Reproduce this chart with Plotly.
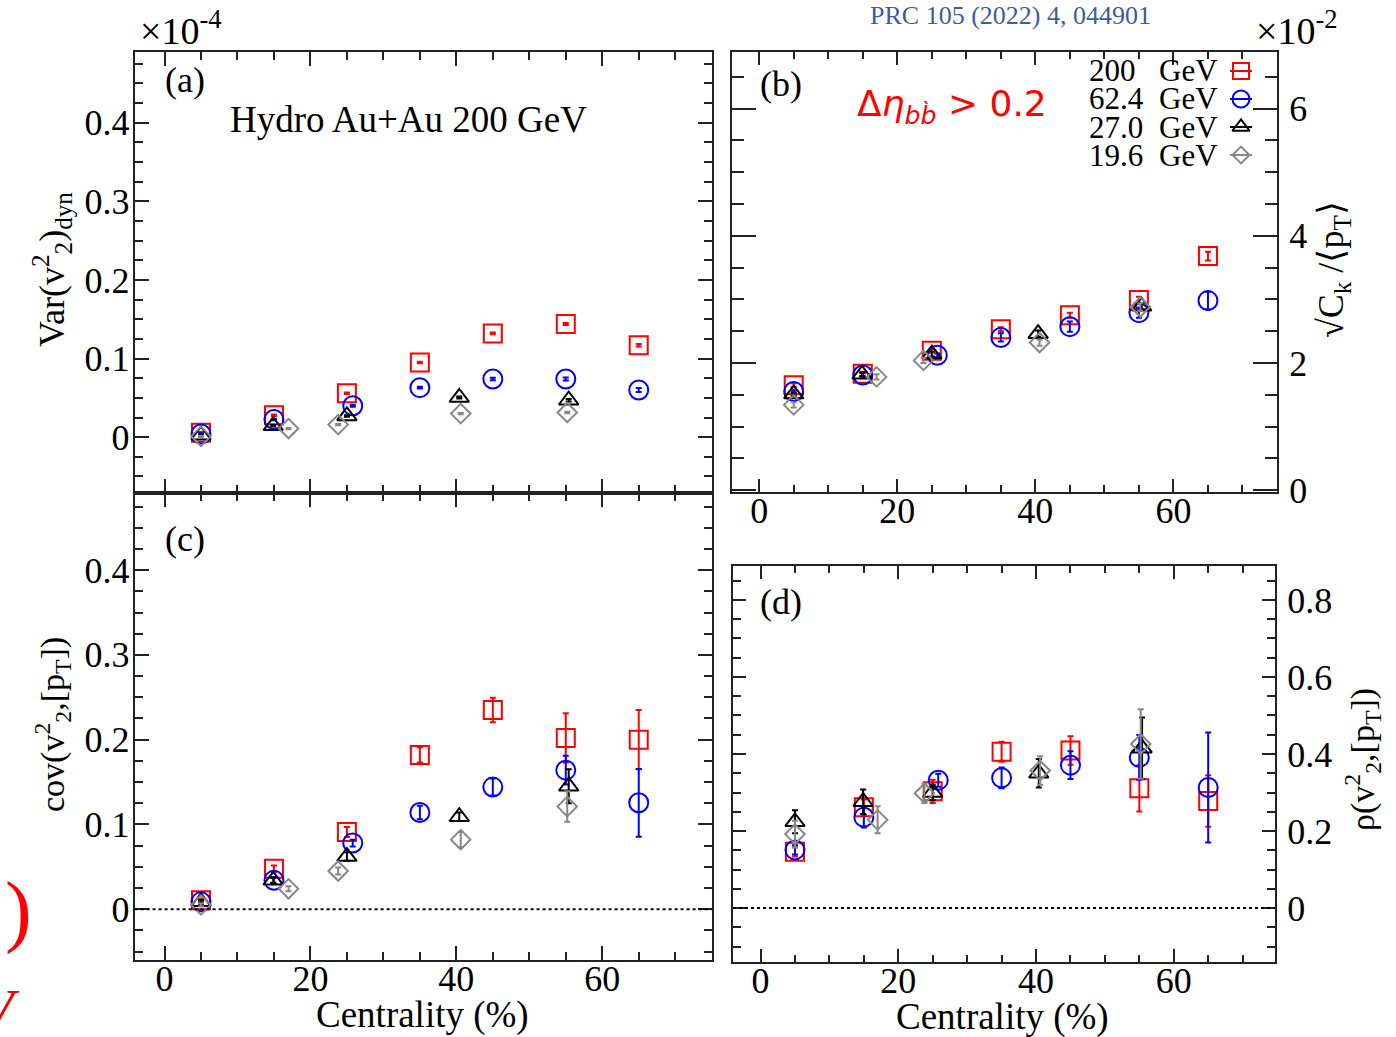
import plotly.graph_objects as go

W, H = 1396, 1037

# ---------------- data ----------------
energies = ["200", "62.4", "27.0", "19.6"]
colors = {"200": "#ff0000", "62.4": "#0000ff", "27.0": "#000000", "19.6": "#878787"}
symbols = {"200": "square-open", "62.4": "circle-open", "27.0": "triangle-up-open", "19.6": "diamond-open"}

cent_200 = [5, 15, 25, 35, 45, 55, 65]
cent_62 = [5, 15, 25.8, 35, 45, 55, 65]
cent_27 = [5, 14.9, 25, 40.4, 55.4]
cent_19 = [5, 17, 23.8, 40.6, 55.2]

# (a) Var(v2^2)_dyn  [x1e-4]
var_200 = [0.0055, 0.028, 0.056, 0.095, 0.132, 0.144, 0.117]
var_200_err = [0.001, 0.001, 0.001, 0.001, 0.0012, 0.0012, 0.0015]
var_62 = [0.004, 0.0225, 0.040, 0.063, 0.074, 0.074, 0.060]
var_62_err = [0.001, 0.001, 0.0012, 0.0012, 0.0015, 0.002, 0.0025]
var_27 = [0.0025, 0.0145, 0.027, 0.0505, 0.047]
var_27_err = [0.0008, 0.001, 0.001, 0.0012, 0.0015]
var_19 = [0.001, 0.011, 0.016, 0.030, 0.0315]
var_19_err = [0.0008, 0.0008, 0.0008, 0.0008, 0.001]

# (b) sqrt(Ck)/<pT>  [x1e-2]
ck_200 = [1.65, 1.83, 2.19, 2.53, 2.75, 2.99, 3.68]
ck_200_err = [0.03, 0.03, 0.03, 0.03, 0.04, 0.05, 0.07]
ck_62 = [1.55, 1.81, 2.12, 2.40, 2.57, 2.79, 2.98]
ck_62_err = [0.03, 0.03, 0.03, 0.065, 0.08, 0.08, 0.14]
ck_27 = [1.51, 1.82, 2.14, 2.46, 2.89]
ck_27_err = [0.03, 0.03, 0.04, 0.05, 0.05]
ck_19 = [1.34, 1.78, 2.04, 2.32, 2.88]
ck_19_err = [0.04, 0.04, 0.04, 0.05, 0.06]

# (c) cov(v2^2,[pT])
cov_200 = [0.0106, 0.0476, 0.091, 0.182, 0.235, 0.202, 0.200]
cov_200_err = [0.002, 0.004, 0.006, 0.009, 0.0145, 0.029, 0.035]
cov_62 = [0.0086, 0.034, 0.078, 0.114, 0.144, 0.164, 0.1255]
cov_62_err = [0.002, 0.004, 0.004, 0.008, 0.010, 0.017, 0.040]
cov_27 = [0.0086, 0.034, 0.062, 0.109, 0.145]
cov_27_err = [0.002, 0.003, 0.005, 0.005, 0.02]
cov_19 = [0.005, 0.024, 0.045, 0.082, 0.121]
cov_19_err = [0.002, 0.003, 0.004, 0.009, 0.018]

# (d) rho(v2^2,[pT])
rho_200 = [0.146, 0.262, 0.303, 0.406, 0.409, 0.311, 0.278]
rho_200_err = [0.012, 0.02, 0.03, 0.026, 0.037, 0.06, 0.067]
rho_62 = [0.151, 0.236, 0.332, 0.338, 0.371, 0.391, 0.313]
rho_62_err = [0.012, 0.027, 0.017, 0.027, 0.036, 0.058, 0.143]
rho_27 = [0.224, 0.276, 0.30, 0.35, 0.415]
rho_27_err = [0.03, 0.032, 0.02, 0.037, 0.08]
rho_19 = [0.192, 0.229, 0.298, 0.357, 0.426]
rho_19_err = [0.035, 0.035, 0.025, 0.037, 0.09]

xticks = [0, 20, 40, 60]
legend_labels = ["200", "62.4", "27.0", "19.6"]

# ---------------- figure ----------------
cent = {"200": cent_200, "62.4": cent_62, "27.0": cent_27, "19.6": cent_19}
panels = [
    ("x", "y", {"200": (var_200, var_200_err), "62.4": (var_62, var_62_err),
                "27.0": (var_27, var_27_err), "19.6": (var_19, var_19_err)}),
    ("x3", "y3", {"200": (ck_200, ck_200_err), "62.4": (ck_62, ck_62_err),
                  "27.0": (ck_27, ck_27_err), "19.6": (ck_19, ck_19_err)}),
    ("x2", "y2", {"200": (cov_200, cov_200_err), "62.4": (cov_62, cov_62_err),
                  "27.0": (cov_27, cov_27_err), "19.6": (cov_19, cov_19_err)}),
    ("x4", "y4", {"200": (rho_200, rho_200_err), "62.4": (rho_62, rho_62_err),
                  "27.0": (rho_27, rho_27_err), "19.6": (rho_19, rho_19_err)}),
]

msize = {"200": 18, "62.4": 19, "27.0": 17, "19.6": 15}

fig = go.Figure()
for xa, ya, dd in panels:
    for e in energies:
        vals, errs = dd[e]
        fig.add_trace(go.Scatter(
            x=cent[e], y=vals, xaxis=xa, yaxis=ya, mode="markers",
            marker=dict(symbol=symbols[e], size=msize[e], color=colors[e],
                        line=dict(width=2, color=colors[e])),
            error_y=dict(type="data", array=errs, color=colors[e], thickness=2, width=3),
            showlegend=False, hoverinfo="skip"))

# legend keys (drawn on a pixel overlay axis)
leg_rows = [71, 99, 127, 155]
for e, yy in zip(energies, leg_rows):
    fig.add_trace(go.Scatter(x=[1230, 1252], y=[yy, yy], xaxis="x5", yaxis="y5",
                             mode="lines", line=dict(color=colors[e], width=2),
                             showlegend=False, hoverinfo="skip"))
    fig.add_trace(go.Scatter(x=[1241], y=[yy], xaxis="x5", yaxis="y5", mode="markers",
                             marker=dict(symbol=symbols[e], size=msize[e] - 2, color=colors[e],
                                         line=dict(width=2, color=colors[e])),
                             showlegend=False, hoverinfo="skip"))

def px(x):
    return x / W

def py(y):
    return 1 - y / H

FONT = "Liberation Serif"
tickfont = dict(family=FONT, size=36, color="black")

def xax(domain, rng, anchor, labels, tl=14, mtl=8):
    return dict(domain=domain, range=rng, anchor=anchor, tickmode="array", tickvals=xticks,
                ticks="inside", ticklen=tl, tickwidth=1.5, tickcolor="#222",
                minor=dict(dtick=5, tick0=0, ticks="inside", ticklen=mtl, tickwidth=1.5, tickcolor="#222"),
                showline=True, linewidth=2, linecolor="#222", mirror="ticks",
                showgrid=False, zeroline=False, showticklabels=labels, tickfont=tickfont,
                ticklabelstandoff=-14)

def yax(domain, rng, anchor, dtick, mdtick, side="left", tl=14, mtl=8, so=-4):
    return dict(domain=domain, range=rng, anchor=anchor, dtick=dtick, tick0=0,
                ticks="inside", ticklen=tl, tickwidth=1.5, tickcolor="#222",
                minor=dict(dtick=mdtick, tick0=0, ticks="inside", ticklen=mtl, tickwidth=1.5, tickcolor="#222"),
                showline=True, linewidth=2, linecolor="#222", mirror="ticks", side=side,
                showgrid=False, zeroline=False, tickfont=tickfont, ticklabelstandoff=so)

fig.update_layout(
    width=W, height=H, margin=dict(l=0, r=0, t=0, b=0, autoexpand=False),
    paper_bgcolor="white", plot_bgcolor="rgba(0,0,0,0)",
    xaxis=xax([px(134.6), px(711.7)], [-4.1, 75], "y", False),
    yaxis=yax([py(493), py(52)], [-0.071, 0.49], "x", 0.1, 0.025),
    xaxis2=xax([px(134.6), px(711.7)], [-4.1, 75], "y2", True),
    yaxis2=yax([py(960), py(493)], [-0.06, 0.491], "x2", 0.1, 0.025),
    xaxis3=xax([px(731.6), px(1277)], [-4.0, 75], "y3", True, 13, 7),
    yaxis3=yax([py(492), py(52)], [-0.03, 6.89], "x3", 2, 0.5, "right", 24, 12, 3),
    xaxis4=xax([px(733), px(1275)], [-4.0, 74.7], "y4", True, 13, 7),
    yaxis4=yax([py(962), py(566)], [-0.14, 0.888], "x4", 0.2, 0.05, "right", 13, 8, 3),
    xaxis5=dict(domain=[0, 1], range=[0, W], anchor="y5", visible=False),
    yaxis5=dict(domain=[0, 1], range=[H, 0], anchor="x5", visible=False),
    showlegend=False,
)

# dotted zero lines
for xa, ya in [("x2", "y2"), ("x4", "y4")]:
    fig.add_shape(type="line", xref=xa + " domain", yref=ya, x0=0, x1=1, y0=0, y1=0,
                  line=dict(color="black", width=2, dash="dot"))

def ann(text, x, y, size=36, color="black", angle=0, xanchor="center", family=FONT, yanchor="middle"):
    fig.add_annotation(text=text, x=px(x), y=py(y), xref="paper", yref="paper", showarrow=False,
                       font=dict(family=family, size=size, color=color), textangle=angle,
                       xanchor=xanchor, yanchor=yanchor)

ann("(a)", 185, 80)
ann("(b)", 781, 84)
ann("(c)", 185, 539)
ann("(d)", 781, 602)
ann("Hydro Au+Au 200 GeV", 408, 120, size=37)
ann("Δ<i>η</i><sub><i>bb\u0300</i></sub> > 0.2", 952, 106, size=36, color="#ff0000", family="DejaVu Sans")
ann("×10<sup>-4</sup>", 138, 28, size=38, xanchor="left")
ann("×10<sup>-2</sup>", 1254, 28, size=38, xanchor="left")
ann("PRC 105 (2022) 4, 044901", 1010, 15, size=26, color="#3d5c9c")

# legend text
for lab, yy in zip(legend_labels, leg_rows):
    ann(lab, 1087, yy, size=31, xanchor="left")
    ann("GeV", 1157, yy, size=31, xanchor="left")

# axis titles
ann("Var(v<sup>2</sup><sub>2</sub>)<sub>dyn</sub>", 52, 270, size=36, angle=-90)
ann("cov(v<sup>2</sup><sub>2</sub>,[p<sub>T</sub>])", 52, 725, size=34, angle=-90)
ann("√C<sub>k</sub> /⟨p<sub>T</sub>⟩", 1333, 270, size=36, angle=-90)
ann("ρ(v<sup>2</sup><sub>2</sub>,[p<sub>T</sub>])", 1362, 760, size=34, angle=-90)
ann("Centrality (%)", 422, 1015, size=37)
ann("Centrality (%)", 1003, 1017, size=37)

# clipped red glyphs at the left edge
ann(")", 34, 910, size=80, color="#ff0000", xanchor="right")
ann("<i>V</i>", 22, 1010, size=60, color="#ff0000", xanchor="right")

fig.write_html("out.html")
